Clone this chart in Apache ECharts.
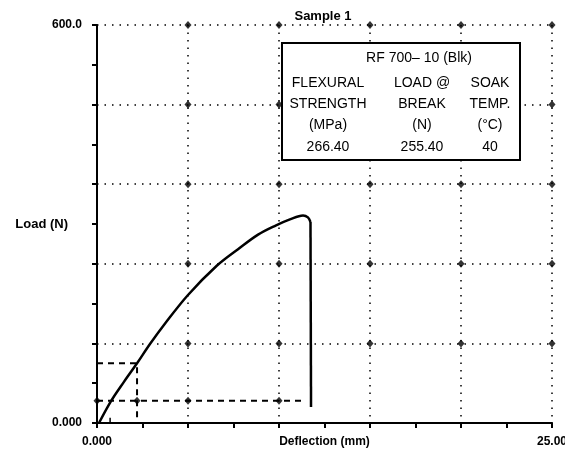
<!DOCTYPE html>
<html><head><meta charset="utf-8">
<script src="https://cdn.jsdelivr.net/npm/echarts@6/dist/echarts.min.js"></script>
<style>html,body{margin:0;padding:0;background:#fff}#c{width:565px;height:451px}</style>
</head><body><div id="c"></div>
<script>
// Load–deflection curve (Deflection mm, Load N), rising part
const curveX = [0.11, 0.77, 1.48, 2.2, 2.91, 3.74, 5.0, 6.58, 7.75, 8.85, 9.84, 10.6, 11.32, 11.59, 11.73];
const curveY = [0, 33, 62, 90, 119, 150, 193, 237, 262, 284, 298, 307, 313, 310, 303];
// break (drop) after the peak
const dropX = [11.73, 11.76];
const dropY = [303, 24];
// construction (dashed) lines
const dashUpperX = [0, 2.2, 2.2];
const dashUpperY = [90, 90, 0];
const dashLowerX = [0, 11.26];
const dashLowerY = [33.5, 33.5];
const offsetTickX = [0.72, 0.72];
const offsetTickY = [0, 8];
// grid marker positions (grid values)
const gridX = [5, 10, 15, 20, 25];
const gridY = [120, 240, 360, 480, 600];
const dashMarkX = [0, 2.2, 5, 10];
// axis labels
const xTickLabels = {0: '0.000', 25: '25.00'};
const yTickLabels = {0: '0.000', 600: '600.0'};
// table
const boxTitle = 'RF 700\u2013 10 (Blk)';
const tableHeaders = [['FLEXURAL', 'STRENGTH', '(MPa)'], ['LOAD @', 'BREAK', '(N)'], ['SOAK', 'TEMP.', '(\u00b0C)']];
const tableValues = ['266.40', '255.40', '40'];

const pair = (xs, ys) => xs.map((x, i) => [x, ys[i]]);
const gridMarks = [];
gridX.forEach(x => gridY.forEach(y => gridMarks.push([x, y])));
dashMarkX.forEach(x => gridMarks.push([x, dashLowerY[0]]));

const colX = [328, 422, 490];
const rowY = [83, 104, 125];
const txt = (t, x, y) => ({type: 'text', z: 101, style: {text: t, x: x, y: y, textAlign: 'center', textVerticalAlign: 'middle', font: '14px "Liberation Sans"', fill: '#000'}});
const boxChildren = [{type: 'rect', z: 100, shape: {x: 282, y: 43, width: 238, height: 117}, style: {fill: '#fff', stroke: '#000', lineWidth: 2}}];
boxChildren.push(txt(boxTitle, 419, 58));
tableHeaders.forEach((col, c) => col.forEach((t, r) => boxChildren.push(txt(t, colX[c], rowY[r]))));
tableValues.forEach((t, c) => boxChildren.push(txt(t, colX[c], 147)));

const black = '#000';
const lblFont = {color: black, fontFamily: 'Liberation Sans', fontWeight: 'bold', fontSize: 12};
const chart = echarts.init(document.getElementById('c'));
chart.setOption({
  animation: false,
  backgroundColor: '#fff',
  title: {text: 'Sample 1', left: 318, top: 5, textAlign: 'center', textStyle: {color: black, fontFamily: 'Liberation Sans', fontWeight: 'bold', fontSize: 13}},
  grid: {left: 97, right: 13, top: 25, bottom: 28, containLabel: false, outerBoundsMode: 'none'},
  xAxis: {
    type: 'value', min: 0, max: 25, interval: 5,
    axisLine: {lineStyle: {color: black, width: 2}},
    axisTick: {show: true, length: 5, lineStyle: {color: black, width: 2}},
    minorTick: {show: true, splitNumber: 2, length: 5, lineStyle: {color: black, width: 2}},
    splitLine: {show: true, lineStyle: {color: black, width: 1.5, type: [1.5, 6]}},
    axisLabel: Object.assign({margin: 13, formatter: v => xTickLabels[v] || ''}, lblFont),
    name: 'Deflection (mm)', nameLocation: 'middle', nameGap: 13, nameMoveOverlap: false,
    nameTextStyle: lblFont
  },
  yAxis: {
    type: 'value', min: 0, max: 600, interval: 120,
    axisLine: {lineStyle: {color: black, width: 2}},
    axisTick: {show: true, length: 5, lineStyle: {color: black, width: 2}},
    minorTick: {show: true, splitNumber: 2, length: 5, lineStyle: {color: black, width: 2}},
    splitLine: {show: true, lineStyle: {color: black, width: 1.5, type: [1.5, 6]}},
    axisLabel: Object.assign({margin: 15, formatter: v => yTickLabels[v] || ''}, lblFont),
    name: 'Load (N)', nameLocation: 'middle', nameRotate: 0, nameGap: 29, nameMoveOverlap: false,
    nameTextStyle: Object.assign({}, lblFont, {fontSize: 13})
  },
  graphic: [{type: 'group', z: 100, children: boxChildren}],
  series: [
    {type: 'line', data: pair(curveX, curveY), smooth: 0.35, showSymbol: false, lineStyle: {color: black, width: 2.5}, z: 5},
    {type: 'line', data: pair(dropX, dropY), showSymbol: false, lineStyle: {color: black, width: 2.5}, z: 5},
    {type: 'line', data: pair(dashUpperX, dashUpperY), showSymbol: false, lineStyle: {color: black, width: 2, type: [6, 5]}},
    {type: 'line', data: pair(dashLowerX, dashLowerY), showSymbol: false, lineStyle: {color: black, width: 2, type: [6, 5]}},
    {type: 'line', data: pair(offsetTickX, offsetTickY), showSymbol: false, lineStyle: {color: black, width: 1.5}},
    {type: 'scatter', data: gridMarks, symbol: 'diamond', symbolSize: [7, 8], itemStyle: {color: black}, clip: false}
  ]
});
</script></body></html>
